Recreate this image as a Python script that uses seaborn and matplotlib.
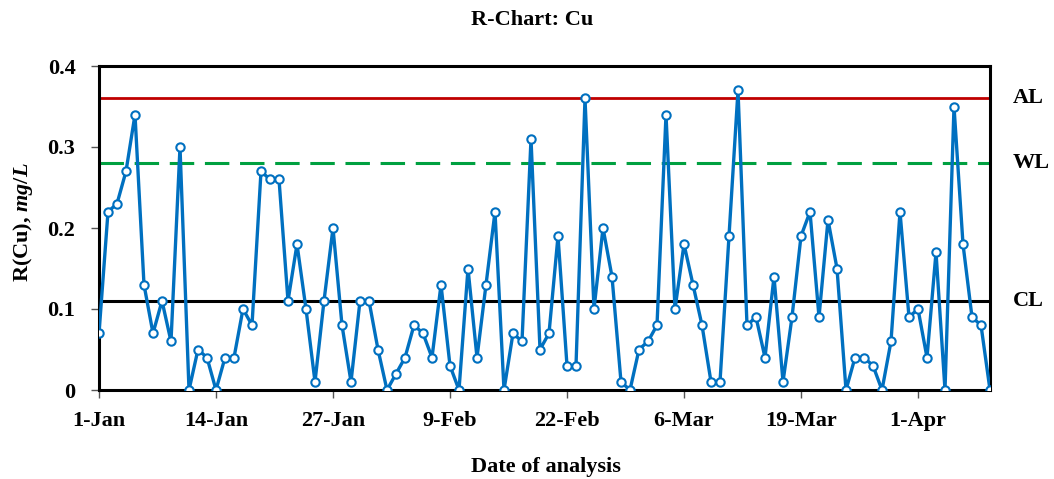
import pandas as pd
import matplotlib
matplotlib.use('Agg')
import matplotlib.pyplot as plt
import matplotlib.dates as mdates
import seaborn as sns

# --- Data (daily ranges) ---
start_date = '2024-01-01'
r_values = [0.07, 0.22, 0.23, 0.27, 0.34, 0.13, 0.07, 0.11, 0.06, 0.30,
            0.00, 0.05, 0.04, 0.00, 0.04, 0.04, 0.10, 0.08, 0.27, 0.26,
            0.26, 0.11, 0.18, 0.10, 0.01, 0.11, 0.20, 0.08, 0.01, 0.11,
            0.11, 0.05, 0.00, 0.02, 0.04, 0.08, 0.07, 0.04, 0.13, 0.03,
            0.00, 0.15, 0.04, 0.13, 0.22, 0.00, 0.07, 0.06, 0.31, 0.05,
            0.07, 0.19, 0.03, 0.03, 0.36, 0.10, 0.20, 0.14, 0.01, 0.00,
            0.05, 0.06, 0.08, 0.34, 0.10, 0.18, 0.13, 0.08, 0.01, 0.01,
            0.19, 0.37, 0.08, 0.09, 0.04, 0.14, 0.01, 0.09, 0.19, 0.22,
            0.09, 0.21, 0.15, 0.00, 0.04, 0.04, 0.03, 0.00, 0.06, 0.22,
            0.09, 0.10, 0.04, 0.17, 0.00, 0.35, 0.18, 0.09, 0.08, 0.00]
limit_names = ['AL', 'WL', 'CL']
limit_values = [0.36, 0.28, 0.11]
limit_colors = ['#C00000', '#00A040', 'black']
limit_styles = ['-', (0, (8, 3.5)), '-']
y_ticks = [0, 0.1, 0.2, 0.3, 0.4]

df = pd.DataFrame({'date': pd.date_range(start_date, periods=len(r_values), freq='D'),
                   'R': r_values})

sns.set_style('white')
plt.rcParams['font.family'] = ['Liberation Serif', 'DejaVu Serif']
plt.rcParams['font.weight'] = 'bold'
plt.rcParams['text.color'] = 'black'
plt.rcParams['xtick.labelcolor'] = 'black'
plt.rcParams['ytick.labelcolor'] = 'black'
plt.rcParams['mathtext.fontset'] = 'custom'
plt.rcParams['mathtext.it'] = 'Liberation Serif:italic:bold'
plt.rcParams['mathtext.rm'] = 'Liberation Serif:bold'

W, H = 1054, 479
fig = plt.figure(figsize=(W / 100, H / 100), dpi=100)
ax = fig.add_axes([99 / W, 1 - 390 / H, 891 / W, 324 / H])

fs = 16

# control limit lines
for name, val, col, ls in zip(limit_names, limit_values, limit_colors, limit_styles):
    lw = 2.0 if name == 'AL' else 2.2
    ax.axhline(val, color=col, linestyle=ls, linewidth=lw, zorder=1)
    ax.text(1.026, val, name, transform=ax.get_yaxis_transform(),
            ha='left', va='center', fontsize=fs, fontweight='bold', color='black')

sns.lineplot(data=df, x='date', y='R', ax=ax, color='#0070C0', linewidth=2.4,
             marker='o', markersize=6, markerfacecolor='white',
             markeredgecolor='#0070C0', markeredgewidth=1.5, zorder=3)

ax.set_xlim(df['date'].iloc[0], df['date'].iloc[-1])
ax.set_ylim(0, 0.4)
ax.set_yticks(y_ticks)
ax.set_yticklabels(['0' if v == 0 else f'{v:.1f}' for v in y_ticks])
ax.set_xticks(df['date'].iloc[::13])
ax.xaxis.set_major_formatter(mdates.DateFormatter('%-d-%b'))

ax.tick_params(axis='both', direction='out', length=6, width=1, labelsize=fs,
               bottom=True, left=True, color='#555555', labelcolor='black')
ax.tick_params(axis='x', pad=9)
ax.tick_params(axis='y', pad=11)
for lab in ax.get_xticklabels() + ax.get_yticklabels():
    lab.set_fontweight('bold')

for s in ax.spines.values():
    s.set_color('black')
    s.set_linewidth(2.2)

ax.set_xlabel('')
ax.set_ylabel('')
fig.text(532 / W, 1 - 20 / H, 'R-Chart: Cu', ha='center', va='center',
         fontsize=fs, fontweight='bold', color='black')
fig.text(546 / W, 1 - 467 / H, 'Date of analysis', ha='center', va='center',
         fontsize=fs, fontweight='bold', color='black')
fig.text(23 / W, 1 - 222 / H, 'R(Cu), $mg/L$', ha='center', va='center', rotation=90,
         fontsize=fs, fontweight='bold', color='black')

fig.savefig('out.png', dpi=100)
plt.close(fig)
